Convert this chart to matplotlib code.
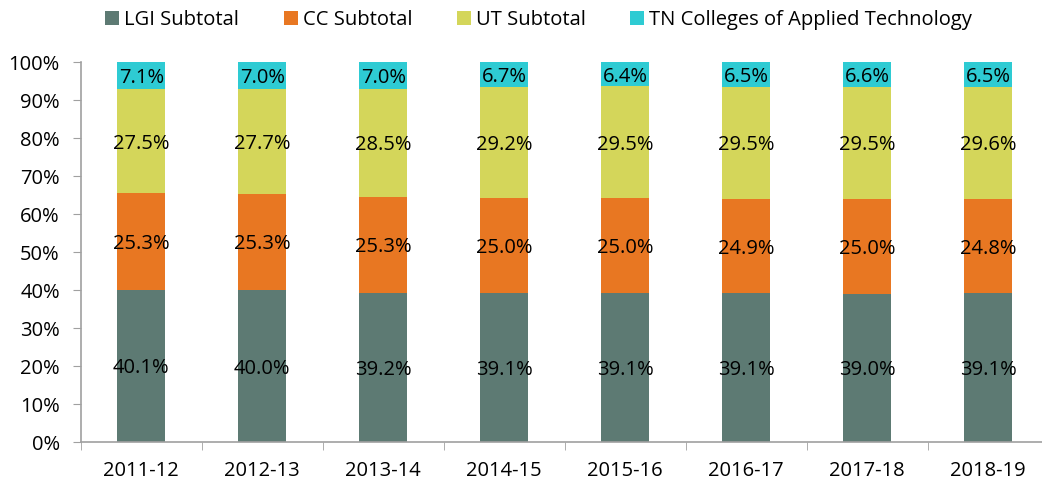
import numpy as np
import matplotlib.pyplot as plt
from matplotlib.ticker import FuncFormatter

plt.rcParams['font.family'] = ['Open Sans', 'DejaVu Sans']

years = ['2011-12', '2012-13', '2013-14', '2014-15', '2015-16', '2016-17', '2017-18', '2018-19']
lgi = [40.1, 40.0, 39.2, 39.1, 39.1, 39.1, 39.0, 39.1]
cc = [25.3, 25.3, 25.3, 25.0, 25.0, 24.9, 25.0, 24.8]
ut = [27.5, 27.7, 28.5, 29.2, 29.5, 29.5, 29.5, 29.6]
tn = [7.1, 7.0, 7.0, 6.7, 6.4, 6.5, 6.6, 6.5]

series = [
    ('LGI Subtotal', lgi, '#5d7a73'),
    ('CC Subtotal', cc, '#e87722'),
    ('UT Subtotal', ut, '#d4d65a'),
    ('TN Colleges of Applied Technology', tn, '#2ecbd3'),
]

fs = 14.5

fig = plt.figure(figsize=(10.42, 4.87), dpi=100)
ax = fig.add_axes([80.7 / 1042, 45 / 487, 968 / 1042, 380 / 487])

x = np.arange(len(years))
bottom = np.zeros(len(years))
for name, vals, color in series:
    vals = np.array(vals)
    ax.bar(x, vals, 0.4, bottom=bottom, color=color, label=name)
    for xi, b, v in zip(x, bottom, vals):
        ax.text(xi, b + v / 2, f'{v:.1f}%', ha='center', va='center_baseline',
                fontsize=fs, color='black')
    bottom += vals

ax.set_xlim(-0.5, 7.5)
ax.set_ylim(0, 100)
ax.set_yticks(np.arange(0, 101, 10))
ax.yaxis.set_major_formatter(FuncFormatter(lambda v, p: f'{v:.0f}%'))
ax.set_xticks(x)
ax.set_xticklabels(years)
ax.set_xticks(np.arange(-0.5, 8, 1), minor=True)
ax.tick_params(axis='x', which='major', length=0, pad=14, labelsize=fs)
ax.tick_params(axis='x', which='minor', length=6, color='#a0a0a0')
ax.tick_params(axis='y', length=6, color='#a0a0a0', labelsize=fs, pad=9)

for side in ['top', 'right']:
    ax.spines[side].set_visible(False)
for side in ['left', 'bottom']:
    ax.spines[side].set_color('#a0a0a0')
    ax.spines[side].set_linewidth(1.2)

ax.legend(loc='upper center', bbox_to_anchor=(0.473, 1.185), ncol=4, frameon=False,
          fontsize=fs, handlelength=0.7, handleheight=0.7, handletextpad=0.25,
          columnspacing=2.2)

fig.savefig('out.png', dpi=100)
